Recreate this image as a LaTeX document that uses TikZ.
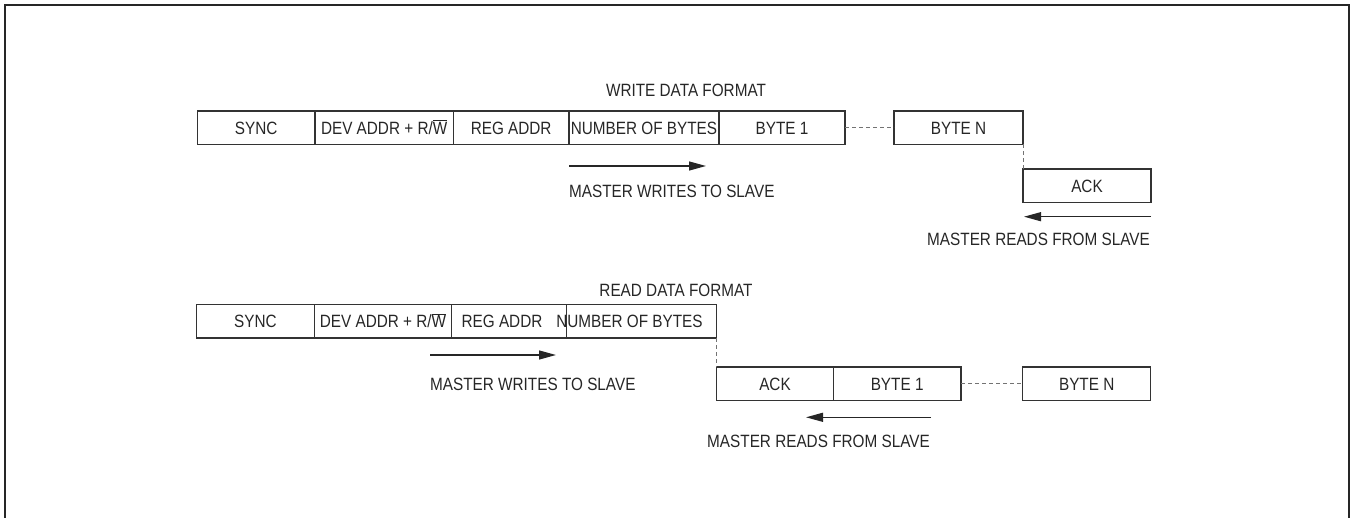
\documentclass[tikz,border=0pt]{standalone}
\usepackage{fontspec}
\setmainfont{Liberation Sans}[FakeStretch=0.86]
\usepackage{tikz}
\usetikzlibrary{arrows.meta,positioning}

\begin{document}
\begin{tikzpicture}[x=1pt, y=-1pt, node distance=0pt,
    field/.style={rectangle, draw=black!80, line width=1.3pt, minimum height=33.6pt, inner sep=0pt, outer sep=0pt,
      text height=12.8pt, text depth=0pt, font=\fontsize{17.8pt}{21pt}\selectfont, text=black!85},
    lbl/.style={inner sep=0pt, text height=12.8pt, text depth=0pt, font=\fontsize{17.8pt}{21pt}\selectfont, text=black!85},
    gap/.style={dashed, dash pattern=on 4pt off 3pt, black!55, line width=0.9pt},
    flow/.style={-{Triangle[length=17pt,width=9pt]}, line width=1.3pt, black!85}]

    \useasboundingbox (0,0) rectangle (1351,518);

    % Outer frame (open at the bottom)
    \draw[line width=2.2pt, black!85] (5,518) -- (5,5) -- (1349,5) -- (1349,518);

    % Write data format
    \node[lbl] (wTitle) at (686,89.7) {WRITE DATA FORMAT};
    \node[field, minimum width=117.7pt, anchor=west] (wSync) at (197.3,127.7) {SYNC};
    \node[field, minimum width=138.3pt, right=of wSync] (wDev) {DEV ADDR + R/$\overline{\hbox{W}}$};
    \node[field, minimum width=115.7pt, right=of wDev] (wReg) {REG ADDR};
    \node[field, minimum width=150pt, right=of wReg] (wNum) {NUMBER OF BYTES};
    \node[field, minimum width=126pt, right=of wNum] (wByteA) {BYTE 1};
    \node[field, minimum width=129pt, anchor=west] (wByteN) at (894,127.7) {BYTE N};
    \node[field, minimum width=128pt, anchor=north west] (wAck) at (1023,169) {ACK};

    \draw[gap] (wByteA.east) -- (wByteN.west);
    \draw[gap] (wByteN.south east) -- (wAck.north west);

    \coordinate (wGoA) at (569,166);
    \coordinate (wGoB) at (706,166);
    \draw[flow] (wGoA) -- (wGoB);
    \node[lbl, anchor=west] (wTxtA) at (569,191) {MASTER WRITES TO SLAVE};

    \coordinate (wBackA) at (1151,216.7);
    \coordinate (wBackB) at (1024,216.7);
    \draw[flow] (wBackA) -- (wBackB);
    \node[lbl, anchor=east] (wTxtB) at (1150,239) {MASTER READS FROM SLAVE};

    % Read data format
    \node[lbl] (rTitle) at (676,290) {READ DATA FORMAT};
    \node[field, minimum width=117.6pt, anchor=west] (rSync) at (196.7,321.2) {SYNC};
    \node[field, minimum width=137.4pt, right=of rSync] (rDev) {DEV ADDR + R/$\overline{\hbox{W}}$};
    \node[field, minimum width=114.6pt, right=of rDev] (rReg) {};
    \node[field, minimum width=150.4pt, right=of rReg] (rNum) {};
    \node[lbl] (rRegTxt) at ([xshift=-7pt]rReg.center) {REG ADDR};
    \node[lbl] (rNumTxt) at ([xshift=-12pt]rNum.center) {NUMBER OF BYTES};
    \node[field, minimum width=116.6pt, anchor=north west] (rAck) at (716.7,367) {ACK};
    \node[field, minimum width=127.7pt, right=of rAck] (rByteA) {BYTE 1};
    \node[field, minimum width=128pt, anchor=west] (rByteN) at (1022.7,383.8) {BYTE N};

    \draw[gap] (rNum.south east) -- (rAck.north west);
    \draw[gap] (rByteA.east) -- (rByteN.west);

    \coordinate (rGoA) at (430,355);
    \coordinate (rGoB) at (556,355);
    \draw[flow] (rGoA) -- (rGoB);
    \node[lbl, anchor=west] (rTxtA) at (430,383.7) {MASTER WRITES TO SLAVE};

    \coordinate (rBackA) at (931,417.3);
    \coordinate (rBackB) at (806,417.3);
    \draw[flow] (rBackA) -- (rBackB);
    \node[lbl, anchor=east] (rTxtB) at (930,440.7) {MASTER READS FROM SLAVE};

\end{tikzpicture}
\end{document}
